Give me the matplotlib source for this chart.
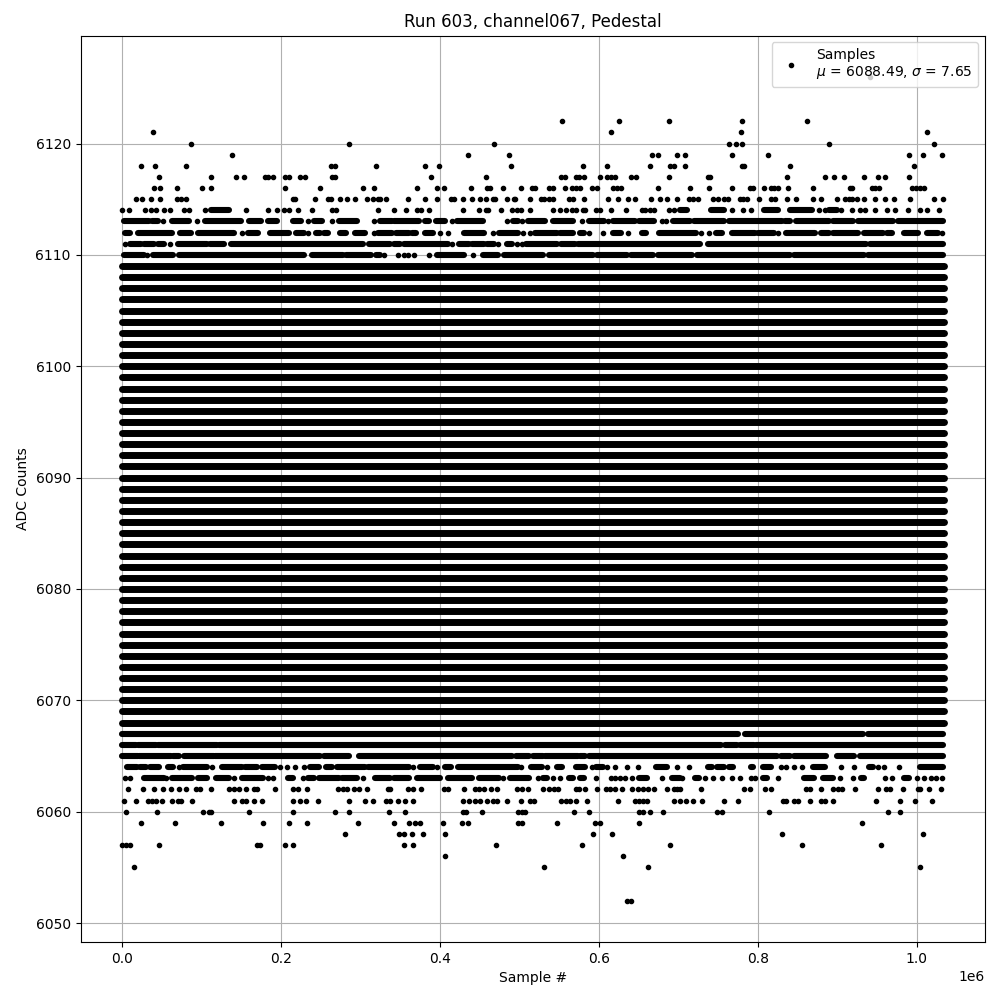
#!/usr/bin/env python3
"""Pedestal samples of one ADC channel, values read off the reference plot."""

import matplotlib
matplotlib.use('Agg')
import numpy as np
import matplotlib.pyplot as plt

#--- DATA: sample number in thousands, per ADC level ----------------------#

# isolated dots
dots = {}
dots[6126] = [941]
dots[6122] = [554, 625, 688, 780, 862]
dots[6121] = [39, 616, 779, 1013]
dots[6120] = [87, 286, 468, 764, 773, 780, 889, 1022]
dots[6119] = [139, 435, 487, 667, 674, 698, 708, 767, 813, 990, 1008, 1032]
dots[6118] = [24, 42, 81, 263, 268, 320, 381, 399, 490, 580, 610, 664, 690, 694,
              709, 780, 783, 841, 997]
dots[6117] = [47, 113, 144, 154, 180, 184, 190, 206, 211, 224, 230, 264, 268, 389,
              458, 552, 557, 571, 575, 582, 602, 610, 616, 621, 641, 647, 688, 737,
              740, 837, 885, 896, 908, 934, 951, 960, 990]
dots[6116] = [41, 48, 70, 101, 113, 206, 249, 304, 318, 372, 396, 405, 439, 459, 463,
              480, 502, 516, 520, 538, 542, 557, 566, 571, 576, 592, 598, 618, 623,
              628, 675, 715, 739, 768, 790, 794, 808, 816, 820, 825, 838, 870, 916,
              919, 944, 948, 953, 994, 999, 1004, 1009]
dots[6115] = [18, 26, 37, 48, 70, 75, 81, 215, 218, 243, 260, 263, 274, 283, 293, 309,
              316, 322, 325, 333, 360, 381, 396, 414, 418, 429, 440, 451, 458, 467,
              470, 484, 493, 495, 514, 527, 531, 537, 542, 563, 567, 581, 611, 624,
              637, 645, 666, 677, 686, 698, 714, 718, 725, 744, 750, 757, 762, 777,
              781, 786, 802, 817, 822, 837, 848, 870, 879, 900, 910, 915, 919, 925,
              933, 948, 960, 971, 992, 1022, 1033]
dots[6114] = [0, 9, 29, 37, 43, 53, 61, 78, 85, 105, 157, 184, 196, 204, 210, 222, 240,
              264, 269, 322, 343, 358, 372, 377, 386, 429, 449, 458, 461, 477, 491,
              497, 502, 513, 543, 551, 559, 566, 572, 580, 583, 596, 602, 615, 634,
              654, 658, 665, 669, 688, 694, 767, 781, 791, 877, 885, 905, 918, 928,
              935, 948, 963, 973, 989, 1004, 1013, 1028]
dots[6113] = [52, 95, 234, 265, 318, 415, 484, 503, 579, 611, 679, 685]
dots[6112] = [152, 234, 318, 400, 411, 467, 505, 513, 588, 605, 637, 728, 739, 826, 1032]
dots[6111] = [4, 61, 416, 473, 497, 503]
dots[6110] = [32, 330, 347, 355, 360, 368, 387, 442]
dots[6064] = [72, 114, 199, 208, 218, 229, 367, 397, 502, 535, 591, 610, 621, 636, 649,
              698, 714, 829, 836, 845, 855, 904, 921, 951, 959, 978]
dots[6063] = [4, 11, 56, 141, 184, 190, 228, 304, 480, 523, 543, 551, 596, 615, 621, 627,
              633, 642, 680, 705, 733, 744, 755, 767, 778, 791, 797, 826, 903, 920,
              960, 969, 1000, 1009, 1018, 1024, 1032]
dots[6062] = [8, 27, 41, 52, 62, 72, 81, 93, 98, 112, 135, 141, 147, 156, 166, 170, 193,
              216, 222, 233, 272, 278, 283, 292, 298, 308, 335, 338, 360, 366, 377,
              405, 411, 431, 444, 450, 456, 465, 472, 497, 503, 511, 530, 538, 544,
              549, 571, 575, 583, 598, 609, 614, 621, 629, 642, 649, 656, 662, 669,
              686, 694, 699, 702, 729, 783, 790, 809, 816, 861, 866, 879, 895, 901,
              906, 922, 951, 961, 966, 982, 1001, 1004, 1015, 1030]
dots[6061] = [3, 18, 33, 38, 43, 51, 63, 71, 75, 88, 141, 151, 156, 166, 176, 216, 224,
              232, 247, 286, 306, 316, 333, 338, 347, 356, 367, 429, 437, 444, 451, 460,
              467, 472, 485, 502, 514, 519, 552, 559, 564, 571, 585, 624, 646, 651, 656,
              661, 695, 702, 710, 718, 730, 757, 775, 832, 836, 845, 850, 866, 879, 885,
              895, 949, 979, 998, 1019]
dots[6060] = [5, 44, 102, 110, 113, 160, 215, 268, 286, 336, 356, 429, 433, 453, 498,
              504, 507, 569, 588, 651, 656, 664, 681, 749, 755, 814, 964, 979]
dots[6059] = [24, 67, 125, 178, 211, 233, 297, 343, 362, 369, 375, 404, 428, 435, 499,
              504, 547, 595, 602, 650, 931]
dots[6058] = [281, 349, 355, 365, 379, 407, 593, 617, 831, 1008]
dots[6057] = [1, 5, 11, 47, 170, 174, 205, 215, 355, 367, 471, 579, 690, 856, 955]
dots[6056] = [407, 630]
dots[6055] = [15, 531, 662, 1004]
dots[6052] = [635, 640]

# stretches where the dots merge into a bar
runs = {}
runs[6114] = [(112, 135), (702, 711), (741, 758), (808, 825), (841, 868), (890, 900)]
runs[6113] = [(3, 34), (38, 46), (63, 85), (105, 150), (160, 175), (184, 195), (216, 225),
              (242, 252), (273, 296), (325, 340), (343, 374), (381, 387), (395, 407),
              (422, 455), (492, 498), (511, 533), (543, 568), (588, 606), (618, 645),
              (650, 670), (693, 715), (720, 757), (764, 830), (834, 841), (848, 890),
              (895, 920), (926, 970), (976, 1033)]
runs[6112] = [(4, 10), (20, 63), (73, 87), (96, 141), (159, 172), (186, 211), (219, 229),
              (245, 249), (255, 260), (274, 282), (294, 306), (323, 340), (345, 361),
              (365, 370), (382, 391), (431, 456), (475, 499), (520, 547), (551, 567),
              (576, 581), (618, 628), (654, 660), (676, 722), (747, 755), (767, 796),
              (800, 820), (835, 872), (879, 889), (895, 926), (933, 957), (962, 969),
              (984, 1002), (1013, 1026)]
runs[6111] = [(10, 24), (28, 41), (46, 53), (71, 107), (111, 129), (137, 304), (311, 337),
              (343, 350), (355, 411), (424, 437), (441, 456), (459, 468), (485, 491),
              (509, 548), (553, 570), (574, 727), (737, 936), (941, 1033)]
runs[6110] = [(3, 28), (39, 64), (72, 229), (240, 279), (282, 313), (320, 325), (397, 430),
              (454, 473), (481, 530), (538, 593), (598, 636), (641, 668), (674, 717),
              (724, 841), (846, 934), (939, 1033)]
runs[6067] = [(0, 775), (784, 932), (938, 1033)]
runs[6066] = [(0, 18), (21, 43), (46, 120), (122, 754), (759, 774), (777, 795), (798, 1033)]
runs[6065] = [(0, 20), (22, 62), (64, 72), (78, 116), (118, 250), (255, 286), (298, 491),
              (496, 512), (517, 530), (532, 574), (577, 583), (588, 824), (829, 840),
              (845, 886), (900, 921), (928, 1033)]
runs[6064] = [(7, 19), (23, 31), (36, 47), (58, 64), (77, 108), (126, 151), (155, 170),
              (176, 193), (237, 248), (257, 265), (271, 306), (310, 361), (375, 391),
              (407, 414), (423, 498), (515, 529), (548, 554), (571, 583), (597, 605),
              (672, 686), (738, 743), (749, 757), (764, 769), (791, 794), (806, 817),
              (869, 885), (940, 945), (1004, 1033)]
runs[6063] = [(28, 53), (63, 89), (96, 108), (119, 135), (152, 178), (209, 216),
              (235, 242), (248, 273), (277, 296), (319, 338), (342, 361), (372, 400),
              (410, 441), (449, 475), (488, 512), (530, 535), (563, 568), (576, 582),
              (651, 661), (692, 702), (721, 726), (806, 812), (858, 871), (882, 895),
              (930, 934), (984, 990)]

# rows that are filled from the first sample to the last
solid_levels = list(range(6068, 6110))
solid_start = 0
solid_end = 1034

#--- END DATA -------------------------------------------------------------#

fig, ax = plt.subplots(figsize=(10, 10), dpi=100)

# Solid rows and merged stretches
for level in solid_levels:
    ax.hlines(level, solid_start * 1e3, solid_end * 1e3, colors='k', linewidth=5.0,
              capstyle='round', zorder=2)
for level, spans in runs.items():
    for a, b in spans:
        ax.hlines(level, a * 1e3, b * 1e3, colors='k', linewidth=4.4,
                  capstyle='round', zorder=2)

# Single dots
x = np.concatenate([np.array(v) * 1e3 for v in dots.values()])
y = np.concatenate([np.full(len(v), k) for k, v in dots.items()])
ax.plot(x, y, 'k.', label='Samples\n$\\mu$ = 6088.49, $\\sigma$ = 7.65')

ax.set_xlabel('Sample #')
ax.set_ylabel('ADC Counts')
ax.set_title('Run 603, channel067, Pedestal')
ax.grid(True)
ax.legend(loc='upper right')

fig.subplots_adjust(left=0.0805, right=0.985, top=0.9645, bottom=0.058)
fig.savefig('out.png')
